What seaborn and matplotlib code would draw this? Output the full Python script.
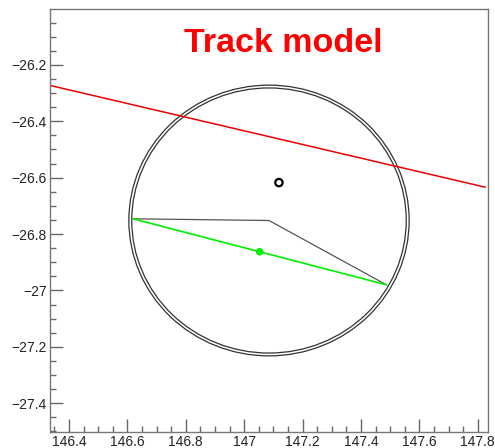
import numpy as np
import pandas as pd
import matplotlib
matplotlib.use("Agg")
import matplotlib.pyplot as plt
from matplotlib.patches import Circle
from matplotlib.ticker import MultipleLocator, FuncFormatter
import seaborn as sns

# ---- data ----
circle_center = [147.085, -26.752]
circle_radii = [0.47, 0.48]
track_x = [146.620, 147.085, 147.487]          # gray polyline (via circle centre)
track_y = [-26.746, -26.752, -26.980]
chord_x = [146.620, 147.487]                    # green chord
chord_y = [-26.746, -26.980]
mid_x = [147.053]                               # green point
mid_y = [-26.863]
hit_x = [147.119]                               # open black marker
hit_y = [-26.6175]
red_x = [146.335, 147.826]                      # red line
red_y = [-26.273, -26.634]
title = "Track model"
xlim = [146.335, 147.835]
ylim = [-27.502, -26.002]

sns.set_theme(style="white")
plt.rcParams["font.family"] = ["Liberation Sans", "DejaVu Sans"]

fig = plt.figure(figsize=(4.95, 4.48), dpi=100)
ax = fig.add_axes([50 / 495, 16 / 448, 438 / 495, 423 / 448])

for r in circle_radii:
    ax.add_patch(Circle(circle_center, r, fill=False, edgecolor="#333333", lw=0.9))

sns.lineplot(x=red_x, y=red_y, sort=False, estimator=None, color="#ee0000", lw=1.1, ax=ax)
sns.lineplot(x=track_x, y=track_y, sort=False, estimator=None, color="#555555", lw=0.9, ax=ax)
sns.lineplot(x=chord_x, y=chord_y, sort=False, estimator=None, color="#00ee00", lw=1.2, ax=ax)
sns.scatterplot(x=mid_x, y=mid_y, color="#00ee00", s=30, edgecolor="none", ax=ax)
sns.scatterplot(x=hit_x, y=hit_y, facecolor="none", edgecolor="black", linewidth=1.6, s=28, ax=ax)

ax.set_xlim(xlim)
ax.set_ylim(ylim)

ax.xaxis.set_major_locator(MultipleLocator(0.2))
ax.xaxis.set_minor_locator(MultipleLocator(0.05))
ax.yaxis.set_major_locator(MultipleLocator(0.2))
ax.yaxis.set_minor_locator(MultipleLocator(0.05))
fmt = FuncFormatter(lambda v, p: ("%g" % round(v, 3)).replace("-", "\u2212"))
ax.xaxis.set_major_formatter(fmt)
ax.yaxis.set_major_formatter(fmt)

ax.tick_params(axis="both", which="major", direction="in", length=9.4, width=1.0,
               color="#666666", labelsize=10, labelcolor="#222222", bottom=True, left=True,
               top=False, right=False)
ax.tick_params(axis="x", which="major", pad=2)
ax.tick_params(axis="y", which="major", pad=2.2)
ax.tick_params(axis="both", which="minor", direction="in", length=4.3, width=1.0,
               color="#666666", bottom=True, left=True, top=False, right=False)

for s in ax.spines.values():
    s.set_color("#777777")
    s.set_linewidth(1.0)

ax.set_xlabel("")
ax.set_ylabel("")
if ax.get_legend() is not None:
    ax.get_legend().remove()

fig.text(283.5 / 495, 1 - 52.3 / 448, title, color="#ff0000", fontsize=24.5,
         fontweight="bold", ha="center", va="baseline")

fig.savefig("out.png", dpi=100)
